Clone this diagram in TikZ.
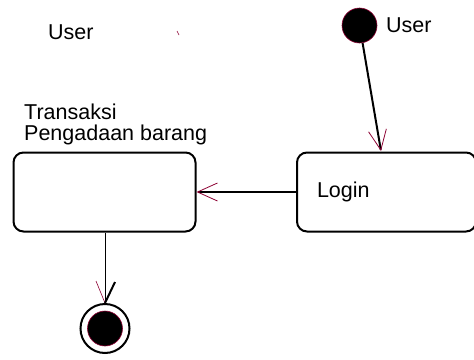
\documentclass[tikz,border=0pt]{standalone}
\usepackage{fontspec}
\setmainfont{Liberation Sans}
\usetikzlibrary{arrows.meta,positioning}
\definecolor{barbred}{RGB}{140,0,50}
\tikzset
{
    statenode/.style = {rectangle, rounded corners=10pt, draw=black, line width=2pt, minimum height=79pt},
    startnode/.style = {circle, draw=barbred, line width=0.6pt, fill=black, minimum size=35pt, inner sep=0pt},
    endnode/.style   = {circle, draw=black, line width=2pt, minimum size=49pt, inner sep=0pt},
    enddot/.style    = {circle, draw=barbred, line width=0.6pt, fill=black, minimum size=35pt, inner sep=0pt},
    plaintext/.style = {inner sep=0pt},
    flow/.style      = {-{Straight Barb[length=20pt, width=18pt, line width=0.8pt, color=barbred]}, line width=2pt}
}

\begin{document}
\begin{tikzpicture}[x=1pt, y=-1pt, font=\fontsize{21.5}{21}\selectfont]
    \useasboundingbox (0,0) rectangle (474,359);
    \node[plaintext, anchor=base west] (usertitle) at (48,39) {User};
    \node[startnode] (start) at (359.5,25.5) {};
    \node[plaintext, anchor=base west] (startname) at (386,32) {User};
    \node[plaintext, anchor=base west, align=left] (transname) at (24,140) {Transaksi\\Pengadaan barang};
    \node[statenode, minimum width=182pt] (trans) at (104.5,192) {};
    \node[statenode, text width=139pt, inner xsep=20pt, align=left] (login) at (386.5,192) {Login};
    \node[endnode] (final) at (105,328.5) {};
    \node[enddot] (finaldot) at (final) {};
    \coordinate (loginin) at (381,151);
    \draw[flow] (start.-80) -- (loginin);
    \draw[flow] (login) -- (trans);
    \draw[line width=0.8pt] (trans.south -| final) -- (final.north);
    \draw[barbred, line width=0.6pt] (final.north) -- ++(-9,-22);
    \draw[line width=2pt] (final.north) -- ++(10,-21);
    \draw[barbred, line width=0.6pt] (177,31) -- (179,35);
\end{tikzpicture}
\end{document}
